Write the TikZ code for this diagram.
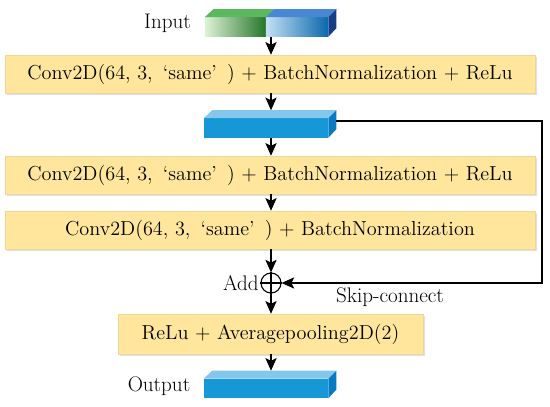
\documentclass[tikz,border=0pt]{standalone}
\usepackage{xcolor}
\usetikzlibrary{arrows.meta, shadows}
\definecolor{boxfill}{RGB}{255,230,156}
\definecolor{boxline}{RGB}{238,214,150}
\definecolor{bfront}{RGB}{22,152,214}
\definecolor{btop}{RGB}{132,198,236}
\definecolor{bside}{RGB}{8,122,196}
\definecolor{gtop}{RGB}{92,184,92}
\definecolor{glight}{RGB}{222,242,216}
\definecolor{gdark}{RGB}{36,118,40}
\definecolor{ctop}{RGB}{72,136,210}
\definecolor{clight}{RGB}{196,224,244}
\definecolor{cdark}{RGB}{10,104,172}
\definecolor{cside}{RGB}{22,62,134}

\begin{document}
\begin{tikzpicture}[x=0.025cm,y=-0.025cm,
  layer/.style={draw=boxline,fill=boxfill,minimum height=0.95cm,
                font=\fontsize{14.4}{17}\selectfont,
                drop shadow={shadow xshift=1.2pt,shadow yshift=-1.5pt,fill=blue!15!gray!35,opacity=0.6}},
  blk/.style={fill=bfront,minimum width=3.1cm,minimum height=0.475cm,inner sep=0pt},
  lbl/.style={font=\fontsize{15}{18}\selectfont},
  addc/.style={draw,circle,line width=0.8pt,minimum size=0.5cm,inner sep=0pt},
  arr/.style={-{Stealth[length=9pt,width=8pt,inset=2pt]},line width=0.8pt}
]
\useasboundingbox (0,0) rectangle (550,406);

% input block
\node[inner sep=0pt,minimum width=1.525cm,minimum height=0.475cm,
      left color=glight,right color=gdark] (ing) at (235.5,27) {};
\node[inner sep=0pt,minimum width=1.55cm,minimum height=0.475cm,
      left color=clight,right color=cdark] (inb) at (297,27) {};
\fill[gtop] (ing.north west) -- (ing.north east) -- ++(8,-8) -- ++(-61,0) -- cycle;
\fill[ctop] (inb.north west) -- (inb.north east) -- ++(8,-8) -- ++(-62,0) -- cycle;
\fill[cside] (inb.north east) -- ++(8,-8) -- ++(0,19) -- (inb.south east) -- cycle;
\node[lbl] (inlbl) at (167.5,23) {Input};

\node[layer,minimum width=13.25cm] (l1) at (270,74)
  {Conv2D(64, 3,\enspace`same'\enspace) + BatchNormalization + ReLu};

% middle block
\node[blk] (blk) at (266,128) {};
\fill[btop] (blk.north west) -- (blk.north east) -- ++(8,-8) -- ++(-124,0) -- cycle;
\fill[bside] (blk.north east) -- ++(8,-8) -- ++(0,19) -- (blk.south east) -- cycle;

\node[layer,minimum width=13.25cm] (l2) at (270,175)
  {Conv2D(64, 3,\enspace`same'\enspace) + BatchNormalization + ReLu};
\node[layer,minimum width=13.25cm] (l3) at (270,230)
  {Conv2D(64, 3,\enspace`same'\enspace) + BatchNormalization};

\node[addc] (add) at (271,283) {};
\draw[line width=0.8pt] (add.north) -- (add.south) (add.west) -- (add.east);
\node[lbl,anchor=east,inner sep=1pt] (addlbl) at (add.west) {Add};
\path (blk.north -| add.north) ++(0,-8) coordinate (blktop);

\node[layer,minimum width=7.625cm,minimum height=1cm] (l4) at (270.5,334)
  {ReLu + Averagepooling2D(2)};

% output block
\node[blk] (out) at (266,388.5) {};
\fill[btop] (out.north west) -- (out.north east) -- ++(8,-8) -- ++(-124,0) -- cycle;
\fill[bside] (out.north east) -- ++(8,-8) -- ++(0,19) -- (out.south east) -- cycle;
\path (out.north -| add.south) ++(0,-8) coordinate (outtop);
\node[lbl] (outlbl) at (159,386) {Output};

\coordinate (turn) at (542,283);
\node[lbl] (skiplbl) at (390,297) {Skip-connect};

\draw[arr] (inb.south -| add.north) -- (l1.north -| add.north);
\draw[arr] (l1.south -| add.north) -- (blktop);
\draw[arr] (blk.south -| add.north) -- (l2.north -| add.north);
\draw[arr] (l2.south -| add.north) -- (l3.north -| add.north);
\draw[arr] (l3.south -| add.north) -- (add.north);
\draw[arr] (add.south) -- (add.south |- l4.north);
\draw[arr] (l4.south -| add.south) -- (outtop);
\draw[arr] ([xshift=0.2cm,yshift=0.175cm]blk.east) -| (turn) -- (add.east);
\end{tikzpicture}
\end{document}
